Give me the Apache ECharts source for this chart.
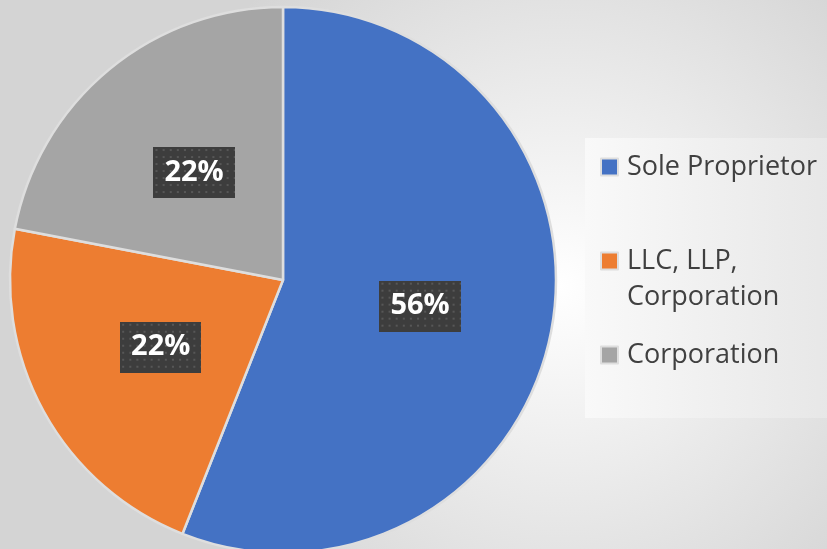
<!DOCTYPE html>
<html>
<head>
<meta charset="utf-8">
<style>
  html, body { margin: 0; padding: 0; }
  #chart { width: 827px; height: 549px; }
</style>
<script src="https://cdn.jsdelivr.net/npm/echarts@6/dist/echarts.min.js"></script>
</head>
<body>
<div id="chart"></div>
<script>
// data
const categories = ['Sole Proprietor', 'LLC, LLP,\nCorporation', 'Corporation'];
const values = [56, 22, 22];
const colors = ['#4472C4', '#ED7D31', '#A5A5A5'];

// dotted dark background for the labels
function makeDots(w, h) {
    const c = document.createElement('canvas');
    c.width = w;
    c.height = h;
    const ctx = c.getContext('2d');
    ctx.fillStyle = '#3d3d3d';
    ctx.fillRect(0, 0, w, h);
    ctx.fillStyle = '#575757';
    for (let y = 2; y < h; y += 7) {
        for (let x = 2; x < w; x += 7) {
            ctx.fillRect(x, y, 2, 2);
        }
    }
    return c;
}

const chart = echarts.init(document.getElementById('chart'));

const option = {
    animation: false,
    backgroundColor: {
        type: 'radial',
        x: 560, y: 285, r: 420,
        global: true,
        colorStops: [
            { offset: 0, color: '#ffffff' },
            { offset: 1, color: '#d4d4d4' },
        ],
    },
    color: colors,
    legend: {
        orient: 'vertical',
        left: 585,
        top: 138,
        padding: [11, 15, 45, 15],
        itemGap: 22,
        itemWidth: 17,
        itemHeight: 17,
        icon: 'rect',
        selectedMode: false,
        backgroundColor: {
            type: 'linear',
            x: 0, y: 0, x2: 1, y2: 0,
            colorStops: [
                { offset: 0, color: '#f9f9f9' },
                { offset: 1, color: '#e7e7e7' },
            ],
        },
        // empty first line so the icon sits beside the first text line
        formatter: name => (name.indexOf('\n') >= 0 ? '\n' + name : name),
        textStyle: {
            fontFamily: 'Open Sans',
            fontSize: 27,
            lineHeight: 36,
            color: '#404040',
            padding: [0, 0, 0, 4],
        },
        data: categories,
    },
    series: [
        {
            type: 'pie',
            center: [283, 280],
            radius: 273,
            startAngle: 90,
            clockwise: true,
            silent: true,
            itemStyle: {
                borderColor: '#dedede',
                borderWidth: 2.5,
            },
            label: {
                position: 'inside',
                formatter: '{d}%',
                fontFamily: 'Open Sans',
                fontWeight: 'bold',
                fontSize: 29,
                color: '#ffffff',
                lineHeight: 35,
                overflow: 'none',
                padding: [8, 11],
                backgroundColor: { image: makeDots(80, 51) },
                shadowColor: 'rgba(0,0,0,0.45)',
                shadowBlur: 6,
                shadowOffsetX: 3,
                shadowOffsetY: 3,
            },
            labelLine: { show: false },
            data: categories.map((name, i) => ({ name: name, value: values[i] })),
        },
    ],
};

chart.setOption(option);
</script>
</body>
</html>
